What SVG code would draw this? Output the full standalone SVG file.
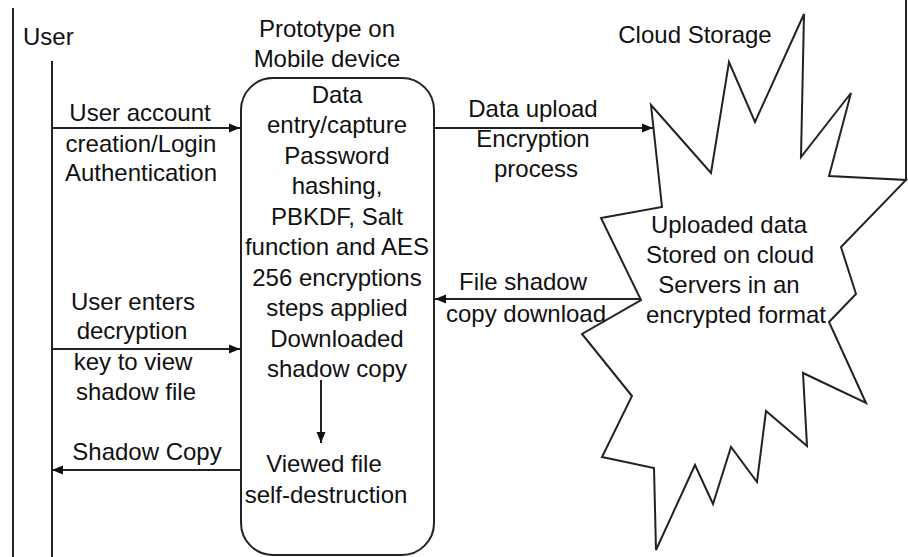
<svg xmlns="http://www.w3.org/2000/svg" width="908" height="557" viewBox="0 0 908 557">
<style>
  text { font-family: "Liberation Sans", Arial, sans-serif; font-size: 24px; fill: #111; }
  .c { text-anchor: middle; }
  .ln { stroke: #222; stroke-width: 2; fill: none; }
  .shape { stroke: #222; stroke-width: 2; fill: #fff; }
</style>
<defs>
  <marker id="ah" markerUnits="userSpaceOnUse" markerWidth="12" markerHeight="10" refX="11" refY="5" orient="auto">
    <path d="M0,0.5 L11,5 L0,9.5 z" fill="#111"/>
  </marker>
</defs>
<rect width="908" height="557" fill="#fff"/>
<g id="frame">
  <line class="ln" x1="13" y1="8" x2="13" y2="557"/>
  <line class="ln" x1="906" y1="0" x2="906" y2="180"/>
</g>
<g id="user">
  <text x="23" y="45">User</text>
  <line class="ln" x1="52" y1="61" x2="52" y2="557"/>
</g>
<g id="prototype">
  <text class="c" x="327" y="37">Prototype on</text>
  <text class="c" x="327" y="67">Mobile device</text>
  <rect class="shape" x="241" y="78" width="193" height="477" rx="32" ry="32"/>
  <text class="c" x="337" y="102.5">Data</text>
  <text class="c" x="337" y="133">entry/capture</text>
  <text class="c" x="337" y="163.5">Password</text>
  <text class="c" x="337" y="194">hashing,</text>
  <text class="c" x="337" y="224.5">PBKDF, Salt</text>
  <text class="c" x="337" y="255">function and AES</text>
  <text class="c" x="337" y="285.5">256 encryptions</text>
  <text class="c" x="337" y="316">steps applied</text>
  <text class="c" x="337" y="346.5">Downloaded</text>
  <text class="c" x="337" y="377">shadow copy</text>
  <text class="c" x="324" y="472">Viewed file</text>
  <text class="c" x="326" y="503">self-destruction</text>
</g>
<g id="cloud">
  <text class="c" x="695" y="43">Cloud Storage</text>
  <polygon class="shape" points="651,105 711,173 729,62 755,122 804,14 801,157 851,93 829,176 906,180 841,247 856,294 829,322 866,403 803,373 807,446 766,411 757,482 731,447 713,504 695,465 656,550 654,468 602,457 632,396 582,334 641,300 601,218 662,207"/>
  <text class="c" x="729" y="233">Uploaded data</text>
  <text class="c" x="730" y="263">Stored on cloud</text>
  <text class="c" x="729" y="293">Servers in an</text>
  <text class="c" x="736" y="323">encrypted format</text>
</g>
<g id="connectors">
  <line class="ln" x1="52" y1="128" x2="240" y2="128" marker-end="url(#ah)"/>
  <line class="ln" x1="435" y1="128" x2="653" y2="128" marker-end="url(#ah)"/>
  <line class="ln" x1="641" y1="299" x2="435" y2="299" marker-end="url(#ah)"/>
  <line class="ln" x1="52" y1="349" x2="240" y2="349" marker-end="url(#ah)"/>
  <line class="ln" x1="240" y1="470" x2="52" y2="470" marker-end="url(#ah)"/>
  <line class="ln" x1="321" y1="380" x2="321" y2="443" marker-end="url(#ah)"/>
</g>
<g id="labels">
  <text class="c" x="140" y="121">User account</text>
  <text class="c" x="141" y="152">creation/Login</text>
  <text class="c" x="141" y="181">Authentication</text>
  <text class="c" x="533" y="117">Data upload</text>
  <text class="c" x="533" y="147">Encryption</text>
  <text class="c" x="536" y="177">process</text>
  <text class="c" x="523" y="290">File shadow</text>
  <text class="c" x="526" y="322">copy download</text>
  <text class="c" x="133" y="310">User enters</text>
  <text class="c" x="132" y="339">decryption</text>
  <text class="c" x="133" y="370">key to view</text>
  <text class="c" x="136" y="400">shadow file</text>
  <text class="c" x="147" y="460">Shadow Copy</text>
</g>
</svg>
